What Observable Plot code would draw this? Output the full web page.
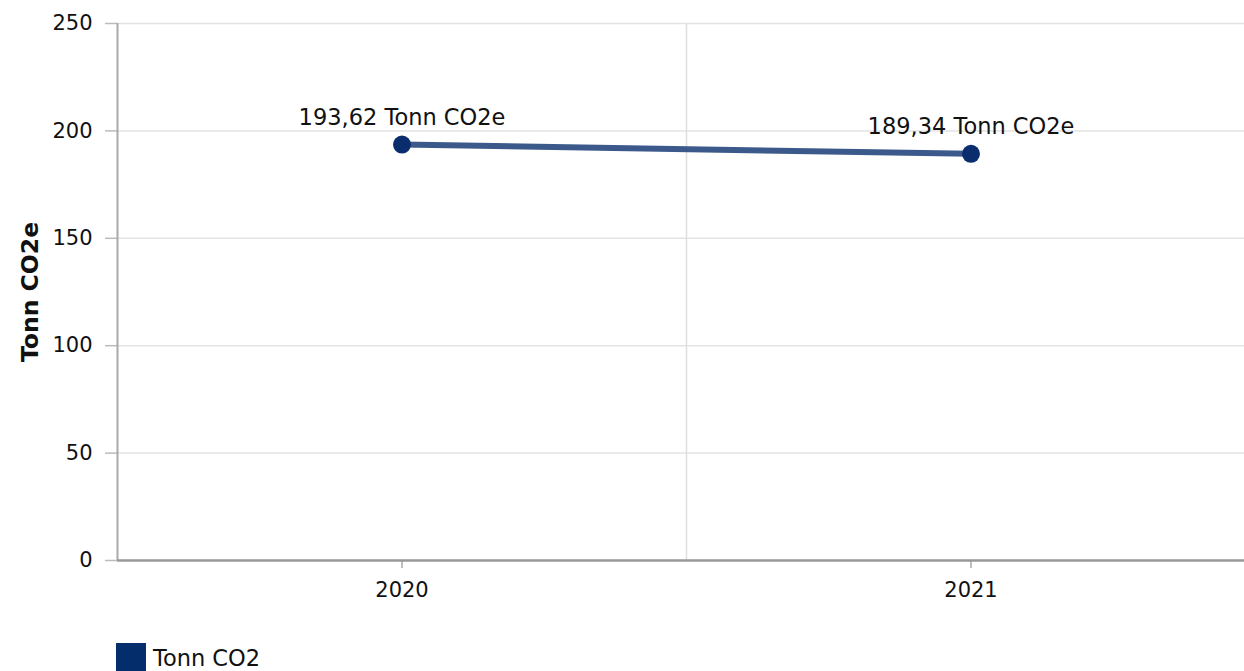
<!DOCTYPE html>
<html>
<head>
<meta charset="utf-8">
<script src="https://cdn.jsdelivr.net/npm/d3@7"></script>
<script src="https://cdn.jsdelivr.net/npm/@observablehq/plot@0.6"></script>
<style>
  html, body { margin: 0; padding: 0; background: #fff; overflow: hidden; }
  body { font-family: "DejaVu Sans", Verdana, sans-serif; }
  #chart svg { display: block; }
  .legend { display: flex; align-items: center; margin-left: 116px; margin-top: 13px; font-size: 22.5px; color: #111; }
  .legend .sw { width: 30px; height: 30px; background: #032d6b; margin-right: 7px; }
</style>
</head>
<body>
<div id="chart"></div>
<div class="legend"><div class="sw"></div><span>Tonn CO2</span></div>
<script>
const years = [2020, 2021];
const values = [193.62, 189.34];
const valueLabels = ["193,62 Tonn CO2e", "189,34 Tonn CO2e"];
const yTicks = [0, 50, 100, 150, 200, 250];
const seriesName = "Tonn CO2";
const yTitle = "Tonn CO2e";

const data = years.map((y, i) => ({year: y, value: values[i], label: valueLabels[i]}));
const dividers = d3.pairs(years).map(([a, b]) => (a + b) / 2);

const chart = Plot.plot({
  width: 1244,
  height: 630,
  marginLeft: 117,
  marginRight: 0,
  marginTop: 23,
  marginBottom: 70,
  style: {fontFamily: "DejaVu Sans, Verdana, sans-serif", fontSize: "21px", color: "#111", background: "#fff", overflow: "visible"},
  x: {type: "linear", domain: [years[0] - 0.5, years[years.length - 1] + 0.5], range: [117, 1255]},
  y: {domain: [0, 250]},
  marks: [
    Plot.ruleY(yTicks.filter(d => d > 0), {stroke: "#e3e3e3", strokeWidth: 1.5}),
    Plot.ruleX(dividers, {stroke: "#dedede", strokeWidth: 1.5}),
    Plot.axisY({ticks: yTicks, tickSize: 12, tickPadding: 13, stroke: "#bbb", strokeWidth: 1.5, label: null, fontSize: 21}),
    Plot.axisX({ticks: years, tickFormat: d => String(d), tickSize: 8, tickPadding: 14, stroke: "#aaa", strokeWidth: 1.5, label: null, fontSize: 21}),
    Plot.ruleX([years[0] - 0.5], {stroke: "#aaa", strokeWidth: 2}),
    Plot.ruleY([0], {stroke: "#999", strokeWidth: 2.5}),
    Plot.line(data, {x: "year", y: "value", stroke: "#3b5a8b", strokeWidth: 6}),
    Plot.dot(data, {x: "year", y: "value", r: 9, fill: "#0a2e6d", stroke: "none"}),
    Plot.text(data, {x: "year", y: "value", text: "label", dy: -27, fontSize: 22.5, fill: "#111"}),
    Plot.text([yTitle], {frameAnchor: "left", textAnchor: "middle", dx: -87, rotate: -90, fontWeight: "bold", fontSize: 23.5, fill: "#111"})
  ]
});
document.getElementById("chart").appendChild(chart);
</script>
</body>
</html>
